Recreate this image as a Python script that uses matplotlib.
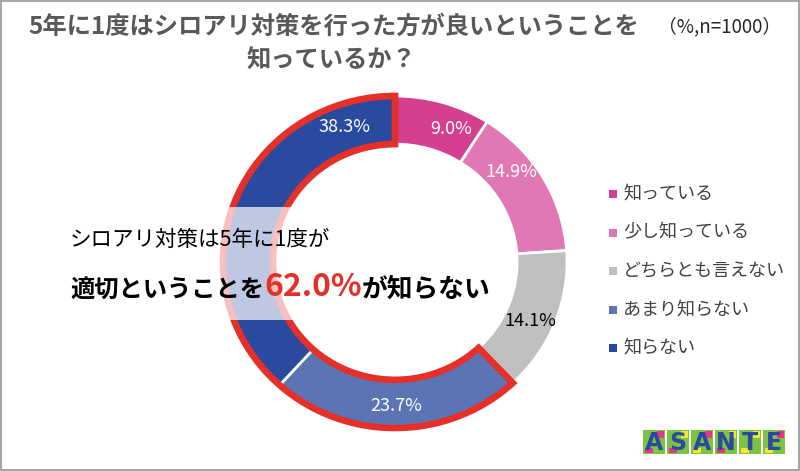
import matplotlib.pyplot as plt
from matplotlib.patches import Wedge, Rectangle
import numpy as np

plt.rcParams['font.family'] = ['Noto Sans CJK JP', 'DejaVu Sans']

# data
categories = ['知っている', '少し知っている', 'どちらとも言えない', 'あまり知らない', '知らない']
values = [9.0, 14.9, 14.1, 23.7, 38.3]
colors = ['#D53F8F', '#DF78B4', '#BFBFBF', '#5B74B4', '#2A4AA0']
label_colors = ['white', 'white', 'black', 'white', 'white']
highlight_idx = [3, 4]  # あまり知らない + 知らない
highlight_total = 62.0

title_line1 = '5年に1度はシロアリ対策を行った方が良いということを'
title_line2 = '知っているか？'
note = '（%,n=1000）'

W, H = 800, 471
fig = plt.figure(figsize=(W / 100, H / 100), dpi=100)

# donut axes (center 395,262 px, radius ~172 x 166 px)
cx, cy, rx, ry = 395, 262, 172, 166
pad = 1.06
pax = fig.add_axes([(cx - rx * pad) / W, (H - cy - ry * pad) / H,
                    2 * rx * pad / W, 2 * ry * pad / H])
ring_w = 0.29
wedges, _ = pax.pie(values, colors=colors, startangle=90, counterclock=False,
                    wedgeprops=dict(width=ring_w, edgecolor='white', linewidth=2))
pax.set_aspect('auto')
pax.set_xlim(-pad, pad)
pax.set_ylim(-pad, pad)

# percentage labels (small angular nudges like the original layout)
nudge = [-6, 8, -3, 0, None]
cum = np.cumsum([0] + values)
for i, v in enumerate(values):
    mid = 90 - 360 * (cum[i] + v / 2) / 100
    mid = 110 if nudge[i] is None else mid + nudge[i]
    rr = 1 - ring_w / 2 + 0.01
    pax.text(rr * np.cos(np.radians(mid)), rr * np.sin(np.radians(mid)), f'{v:.1f}%',
             ha='center', va='center', fontsize=13, color=label_colors[i])

# red outline around highlighted segments
t_start = 90 - 360 * cum[highlight_idx[0]] / 100 + 360
pax.add_patch(Wedge((0, 0), 1.0, 90, t_start, width=ring_w, fill=False,
                    edgecolor='#E5302A', linewidth=4.8, joinstyle='miter'))

# overlay axes in pixel coordinates
ax = fig.add_axes([0, 0, 1, 1])
ax.set_xlim(0, W)
ax.set_ylim(H, 0)
ax.axis('off')

# translucent band behind the callout text
ax.add_patch(Rectangle((30, 207), 455, 113, facecolor='white', alpha=0.7,
                       edgecolor='none', zorder=2))

ax.text(334, 27, title_line1, ha='center', va='center', fontsize=17.5,
        fontweight='bold', color='#595959', zorder=3)
ax.text(331, 61, title_line2, ha='center', va='center', fontsize=17.5,
        fontweight='bold', color='#595959', zorder=3)
ax.text(720, 27, note, ha='center', va='center', fontsize=13.5, color='#262626', zorder=3)

ax.text(70, 240, 'シロアリ対策は5年に1度が', ha='left', va='center', fontsize=15.5,
        color='black', zorder=3)
t1 = ax.text(70, 298, '適切ということを', ha='left', va='baseline', fontsize=17.5,
             fontweight='bold', color='black', zorder=3)
t2 = ax.annotate(f'{highlight_total:.1f}%', xy=(1, 0), xycoords=t1, ha='left', va='bottom',
                 fontsize=23, fontweight='bold', color='#E5302A', zorder=3)
ax.annotate('が知らない', xy=(1, 0), xycoords=t2, ha='left', va='bottom',
            fontsize=18.5, fontweight='bold', color='black', zorder=3)

# legend
for i, (lab, c) in enumerate(zip(categories, colors)):
    y = 194 + i * 38.5
    ax.add_patch(Rectangle((609, y - 4), 8, 8, facecolor=c, edgecolor='none', zorder=3))
    ax.text(623, y, lab, ha='left', va='center', fontsize=13, color='#404040', zorder=3)

# logo
logo_letters = ['A', 'S', 'A', 'N', 'T', 'E']
accents = ['#E8338A', '#F5E634', '#E8338A', '#F5E634', '#F5E634', '#E8338A']
for i, (ch, ac) in enumerate(zip(logo_letters, accents)):
    x0 = 643 + i * 24
    ax.add_patch(Rectangle((x0, 430), 22, 24, facecolor='#7CC243', edgecolor='none', zorder=3))
    ax.add_patch(Rectangle((x0 + 14, 431), 7, 7, facecolor=ac, edgecolor='none', zorder=3))
    ax.add_patch(Rectangle((x0 + 2, 448), 8, 5, facecolor=accents[i - 1], edgecolor='none',
                           zorder=3))
    ax.text(x0 + 11, 443, ch, ha='center', va='center', fontsize=17, fontweight='bold',
            color='#2A4AA0', family='DejaVu Sans', zorder=4)

# outer frame
ax.add_patch(Rectangle((1, 1), W - 2, H - 2, fill=False, edgecolor='#A6A6A6',
                       linewidth=1.5, clip_on=False, zorder=5))

fig.savefig('out.png', dpi=100)
